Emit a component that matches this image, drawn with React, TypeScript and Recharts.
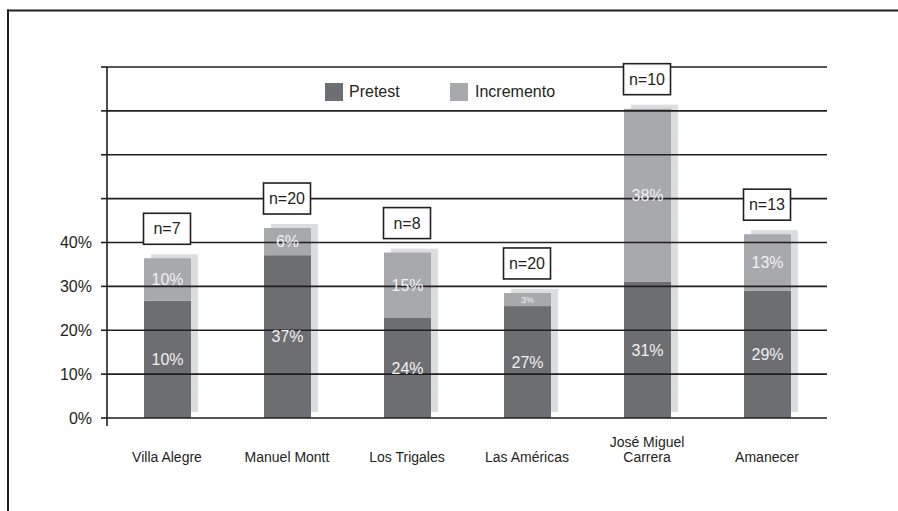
import React from 'react';
import { ComposedChart, Bar, XAxis, YAxis, ReferenceLine, Scatter, LabelList } from 'recharts';

const categories = ['Villa Alegre', 'Manuel Montt', 'Los Trigales', 'Las Américas', 'José Miguel Carrera', 'Amanecer'];
const categoryLines = [['Villa Alegre'], ['Manuel Montt'], ['Los Trigales'], ['Las Américas'], ['José Miguel', 'Carrera'], ['Amanecer']];
const pretest = [26.7, 37.1, 22.8, 25.5, 31.0, 29.0];
const incremento = [9.7, 6.2, 14.9, 3.0, 39.5, 12.9];
const pretestLabels = ['10%', '37%', '24%', '27%', '31%', '29%'];
const incrementoLabels = ['10%', '6%', '15%', '3%', '38%', '13%'];
const sampleSizes = [7, 20, 8, 20, 10, 13];
const yTicks = [0, 10, 20, 30, 40, 50, 60, 70, 80];
const labeledMax = 40;

const DARK = '#6d6e71';
const LIGHT = '#a7a9ac';
const SHADOW = '#dcddde';
const INK = '#231f20';
const FONT = "'Liberation Sans', Arial, sans-serif";

const data = categories.map((name, i) => ({
  name,
  lines: categoryLines[i],
  pretest: pretest[i],
  incremento: incremento[i],
  total: pretest[i] + incremento[i],
  pretestLabel: pretestLabels[i],
  incrementoLabel: incrementoLabels[i],
  n: `n=${sampleSizes[i]}`,
}));

const PretestShape = (props: any) => {
  const { x, y, width, height, payload } = props;
  const ppu = height / payload.pretest;
  const top = y - payload.incremento * ppu;
  const bottom = y + height;
  return (
    <g>
      <rect x={x + 7} y={top - 4} width={width} height={bottom - 6 - (top - 4)} fill={SHADOW} />
      <rect x={x} y={y} width={width} height={height} fill={DARK} />
    </g>
  );
};

const InnerLabel = (props: any) => {
  const { x, y, width, height, value } = props;
  const fs = height < 20 ? 9 : 16;
  return (
    <text x={x + width / 2} y={y + height / 2 + fs * 0.35} textAnchor="middle" fill="#f1f1f2" fontSize={fs} fontFamily={FONT}>
      {value}
    </text>
  );
};

const NBox = (props: any) => {
  const { cx, cy, payload } = props;
  const w = 47;
  const h = 31;
  const bottom = cy - 14;
  return (
    <g>
      <rect x={cx - w / 2} y={bottom - h} width={w} height={h} fill="#ffffff" stroke={INK} strokeWidth={1.6} />
      <text x={cx} y={bottom - h / 2 + 5.6} textAnchor="middle" fill={INK} fontSize={16} fontFamily={FONT}>
        {payload.n}
      </text>
    </g>
  );
};

const XTick = (props: any) => {
  const { x, y, index } = props;
  const lines: string[] = categoryLines[index] || [];
  const last = y + 44;
  return (
    <text x={x} textAnchor="middle" fill={INK} fontSize={14} fontFamily={FONT}>
      {lines.map((l, i) => (
        <tspan key={i} x={x} y={last - (lines.length - 1 - i) * 15}>
          {l}
        </tspan>
      ))}
    </text>
  );
};

export default function App() {
  return (
    <div style={{ position: 'absolute', left: 0, top: 0, width: 898, height: 511, background: '#fff', fontFamily: FONT, overflow: 'hidden' }}>
      <style>{'html,body{margin:0;padding:0;overflow:hidden;background:#fff;}'}</style>
      <svg width={898} height={511} style={{ position: 'absolute', left: 0, top: 0 }}>
        <line x1={7} y1={10.5} x2={898} y2={10.5} stroke={INK} strokeWidth={2} />
      </svg>
      <svg width={20} height={511} style={{ position: 'absolute', left: 0, top: 0 }}>
        <line x1={8} y1={9.5} x2={8} y2={511} stroke={INK} strokeWidth={2} />
      </svg>
      <ComposedChart
        width={898}
        height={511}
        data={data}
        margin={{ top: 67, right: 71, bottom: 0, left: 0 }}
        barCategoryGap={0}
        style={{ position: 'absolute', left: 0, top: 0 }}
      >
        <XAxis dataKey="name" height={93} axisLine={false} tickLine={false} tickSize={0} tickMargin={0} tick={<XTick />} interval={0} />
        <YAxis
          width={107}
          domain={[0, 80]}
          ticks={yTicks}
          interval={0}
          tickSize={6}
          tickMargin={9}
          axisLine={{ stroke: INK, strokeWidth: 1.6 }}
          tickLine={{ stroke: INK, strokeWidth: 1.6 }}
          tick={{ fill: INK, fontSize: 16, fontFamily: FONT }}
          tickFormatter={(v: number) => (v <= labeledMax ? `${v}%` : '')}
        />
        <Bar dataKey="pretest" stackId="a" barSize={47} fill={DARK} shape={<PretestShape />} isAnimationActive={false}>
          <LabelList dataKey="pretestLabel" content={<InnerLabel />} />
        </Bar>
        <Bar dataKey="incremento" stackId="a" barSize={47} fill={LIGHT} isAnimationActive={false}>
          <LabelList dataKey="incrementoLabel" content={<InnerLabel />} />
        </Bar>
        {yTicks.map((t) => (
          <ReferenceLine key={t} y={t} stroke={INK} strokeWidth={1.6} zIndex={350} />
        ))}
        <Scatter dataKey="total" shape={<NBox />} isAnimationActive={false} zIndex={2500} />
      </ComposedChart>
      <svg width={898} height={511} style={{ position: 'absolute', left: 0, top: 0, pointerEvents: 'none' }}>
        <line x1={107} y1={418} x2={107} y2={426} stroke={INK} strokeWidth={1.6} />
      </svg>
      <div style={{ position: 'absolute', left: 325, top: 83, display: 'flex', alignItems: 'center', fontSize: 16, color: INK, fontFamily: FONT }}>
        <div style={{ display: 'flex', alignItems: 'center', width: 125 }}>
          <div style={{ width: 18, height: 18, background: DARK, marginRight: 6 }} />
          <span>Pretest</span>
        </div>
        <div style={{ display: 'flex', alignItems: 'center' }}>
          <div style={{ width: 18, height: 18, background: LIGHT, marginRight: 7 }} />
          <span>Incremento</span>
        </div>
      </div>
    </div>
  );
}
